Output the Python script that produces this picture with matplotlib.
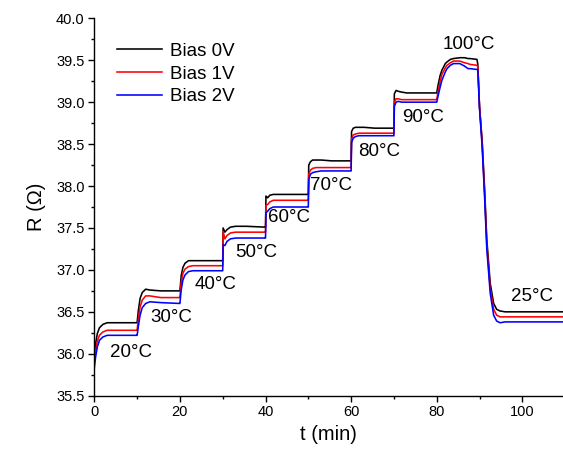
import matplotlib
matplotlib.use("Agg")
import matplotlib.pyplot as plt
from matplotlib.ticker import MultipleLocator, FormatStrFormatter

plt.rcParams['font.family'] = ['Liberation Sans', 'DejaVu Sans']

t_min = [
    0.0, 0.3, 0.7, 1.2, 2.0, 3.0, 6.0, 9.95,
    10.0, 10.3, 10.7, 11.2, 12.0, 13.0, 15.5, 19.95,
    20.0, 20.3, 20.7, 21.2, 22.0, 23.0, 25.5, 29.95,
    30.0, 30.1, 30.5, 31.0, 31.8, 33.0, 35.5, 39.95,
    40.0, 40.1, 40.5, 41.0, 41.8, 43.0, 45.5, 49.95,
    50.0, 50.1, 50.5, 51.0, 51.8, 53.0, 55.5, 59.95,
    60.0, 60.1, 60.5, 61.0, 61.8, 63.0, 65.5, 69.95,
    70.0, 70.1, 70.5, 71.0, 71.8, 73.0, 75.5, 79.95,
    80.0, 80.3, 80.8, 81.2, 82.0, 82.4, 83.2, 83.9, 85.4, 86.5, 87.3, 87.8, 89.4,
    89.6, 90.0, 90.6, 91.2, 91.7, 92.5, 93.3, 94.0, 94.8, 96.0, 100.0, 109.5,
]

r_bias0 = [
    35.98, 36.12, 36.24, 36.31, 36.35, 36.37, 36.37, 36.37,
    36.37, 36.52, 36.66, 36.73, 36.77, 36.76, 36.75, 36.75,
    36.75, 36.93, 37.03, 37.08, 37.11, 37.11, 37.11, 37.11,
    37.11, 37.50, 37.45, 37.48, 37.51, 37.52, 37.52, 37.51,
    37.51, 37.88, 37.86, 37.89, 37.90, 37.90, 37.90, 37.90,
    37.90, 38.25, 38.29, 38.31, 38.31, 38.31, 38.30, 38.30,
    38.30, 38.65, 38.69, 38.70, 38.70, 38.70, 38.69, 38.69,
    38.69, 39.10, 39.14, 39.13, 39.12, 39.11, 39.11, 39.11,
    39.11, 39.20, 39.32, 39.38, 39.46, 39.48, 39.51, 39.52, 39.53, 39.53, 39.52, 39.52, 39.51,
    39.45, 38.94, 38.55, 37.95, 37.36, 36.84, 36.60, 36.53, 36.51, 36.50, 36.50, 36.50,
]

r_bias1 = [
    35.90, 36.03, 36.15, 36.22, 36.26, 36.28, 36.28, 36.28,
    36.28, 36.42, 36.56, 36.64, 36.69, 36.69, 36.67, 36.67,
    36.67, 36.85, 36.96, 37.01, 37.04, 37.05, 37.05, 37.05,
    37.05, 37.46, 37.37, 37.41, 37.44, 37.45, 37.45, 37.45,
    37.45, 37.77, 37.78, 37.81, 37.83, 37.83, 37.83, 37.83,
    37.83, 38.14, 38.19, 38.21, 38.22, 38.22, 38.22, 38.22,
    38.22, 38.56, 38.61, 38.62, 38.63, 38.63, 38.63, 38.63,
    38.63, 39.00, 39.04, 39.04, 39.03, 39.03, 39.03, 39.03,
    39.03, 39.12, 39.25, 39.33, 39.41, 39.44, 39.47, 39.49, 39.49, 39.47, 39.46, 39.45, 39.44,
    39.42, 38.95, 38.52, 37.90, 37.30, 36.78, 36.53, 36.46, 36.44, 36.44, 36.44, 36.44,
]

r_bias2 = [
    35.83, 35.96, 36.08, 36.16, 36.20, 36.22, 36.22, 36.22,
    36.22, 36.33, 36.46, 36.55, 36.60, 36.62, 36.61, 36.60,
    36.60, 36.76, 36.88, 36.94, 36.98, 36.99, 36.99, 36.99,
    36.99, 37.30, 37.29, 37.34, 37.37, 37.38, 37.38, 37.38,
    37.38, 37.68, 37.70, 37.73, 37.75, 37.75, 37.75, 37.75,
    37.75, 38.08, 38.14, 38.16, 38.17, 38.18, 38.18, 38.18,
    38.18, 38.52, 38.57, 38.59, 38.60, 38.60, 38.60, 38.60,
    38.60, 38.95, 39.00, 39.01, 39.00, 39.00, 39.00, 39.00,
    39.00, 39.07, 39.18, 39.26, 39.36, 39.40, 39.44, 39.46, 39.46, 39.43, 39.40, 39.40, 39.39,
    39.38, 38.92, 38.48, 37.85, 37.25, 36.72, 36.46, 36.39, 36.37, 36.38, 36.38, 36.38,
]

series_labels = ["Bias 0V", "Bias 1V", "Bias 2V"]
series_colors = ["#000000", "#ff0000", "#0000ff"]

temp_labels = ["20°C", "30°C", "40°C", "50°C", "60°C", "70°C", "80°C", "90°C", "100°C", "25°C"]
temp_t = [8.6, 18.1, 28.4, 37.8, 45.5, 55.3, 66.5, 76.9, 87.4, 102.3]
temp_r = [36.02, 36.43, 36.82, 37.21, 37.63, 38.01, 38.41, 38.82, 39.69, 36.68]

fig = plt.figure(figsize=(5.63, 4.54), dpi=100)
ax = fig.add_axes([0.1675, 0.1284, 0.8325, 0.8313])

for vals, lab, col in zip([r_bias0, r_bias1, r_bias2], series_labels, series_colors):
    ax.plot(t_min, vals, color=col, lw=1.15, label=lab)

for lab, tx, ry in zip(temp_labels, temp_t, temp_r):
    ax.text(tx, ry, lab, fontsize=13.5, ha='center', va='center', color='black')

ax.set_xlim(0, 109.5)
ax.set_ylim(35.5, 40.0)
ax.xaxis.set_major_locator(MultipleLocator(20))
ax.xaxis.set_minor_locator(MultipleLocator(10))
ax.yaxis.set_major_locator(MultipleLocator(0.5))
ax.yaxis.set_minor_locator(MultipleLocator(0.25))
ax.yaxis.set_major_formatter(FormatStrFormatter('%.1f'))

for s in ['top', 'right']:
    ax.spines[s].set_visible(False)
for s in ['left', 'bottom']:
    ax.spines[s].set_linewidth(1.0)

ax.tick_params(which='major', direction='out', length=4, width=1.0, labelsize=10.5, pad=3)
ax.tick_params(which='minor', direction='out', length=2.5, width=1.0)

ax.set_xlabel("t (min)", fontsize=14.5, labelpad=4)
ax.set_ylabel("R (Ω)", fontsize=14.5, labelpad=7)

ax.legend(loc='upper left', bbox_to_anchor=(0.025, 0.965), frameon=False, fontsize=13.5,
          handlelength=2.4, handletextpad=0.4, labelspacing=0.3, borderaxespad=0.2)

fig.savefig("out.png", dpi=100)
